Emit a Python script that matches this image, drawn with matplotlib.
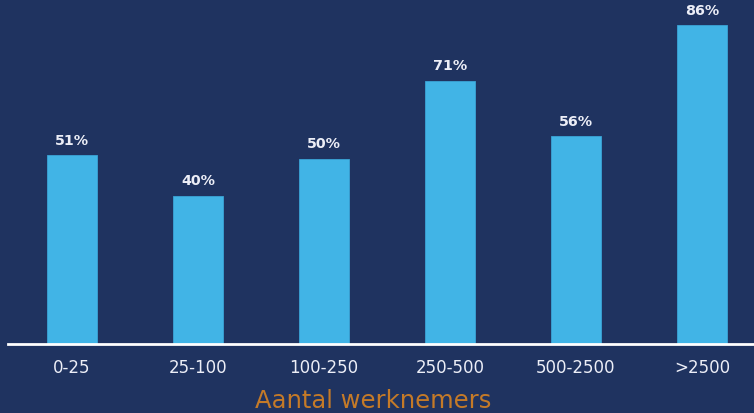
import matplotlib
matplotlib.use("Agg")
import matplotlib.pyplot as plt

categories = ["0-25", "25-100", "100-250", "250-500", "500-2500", ">2500"]
values = [51, 40, 50, 71, 56, 86]
xlabel = "Aantal werknemers"

BG = "#1f3360"
BAR = "#41b4e6"
ORANGE = "#c47a28"
FONT = "DejaVu Sans"

fig = plt.figure(figsize=(7.54, 4.14), dpi=100, facecolor=BG)
ax = fig.add_axes([8/754, (414-345)/414, (754-8)/754, 345/414])
ax.set_facecolor(BG)
x = list(range(len(categories)))
ax.bar(x, values, width=0.40, color=BAR, edgecolor="#3aa4d6", linewidth=0.6, zorder=2)
ax.set_xlim(-0.508, 5.413)
ax.set_ylim(0, 93)
for xi, v in zip(x, values):
    ax.text(xi, v + 2.2, f"{v}%", ha="center", va="bottom", color="#eceef7",
            fontsize=10.3, fontweight="bold", family=FONT)
for s in ["top", "right", "left"]:
    ax.spines[s].set_visible(False)
ax.spines["bottom"].set_color("white")
ax.spines["bottom"].set_linewidth(2)
ax.set_yticks([])
ax.set_xticks(x)
ax.set_xticklabels(categories, color="#eceef7", fontsize=12, family=FONT)
ax.tick_params(axis="x", length=0, pad=10)
ax.set_xlabel(xlabel, color=ORANGE, fontsize=17.5, family=FONT)
ax.xaxis.set_label_coords(0.489, -0.128)
fig.savefig("out.png", dpi=100, facecolor=BG)
